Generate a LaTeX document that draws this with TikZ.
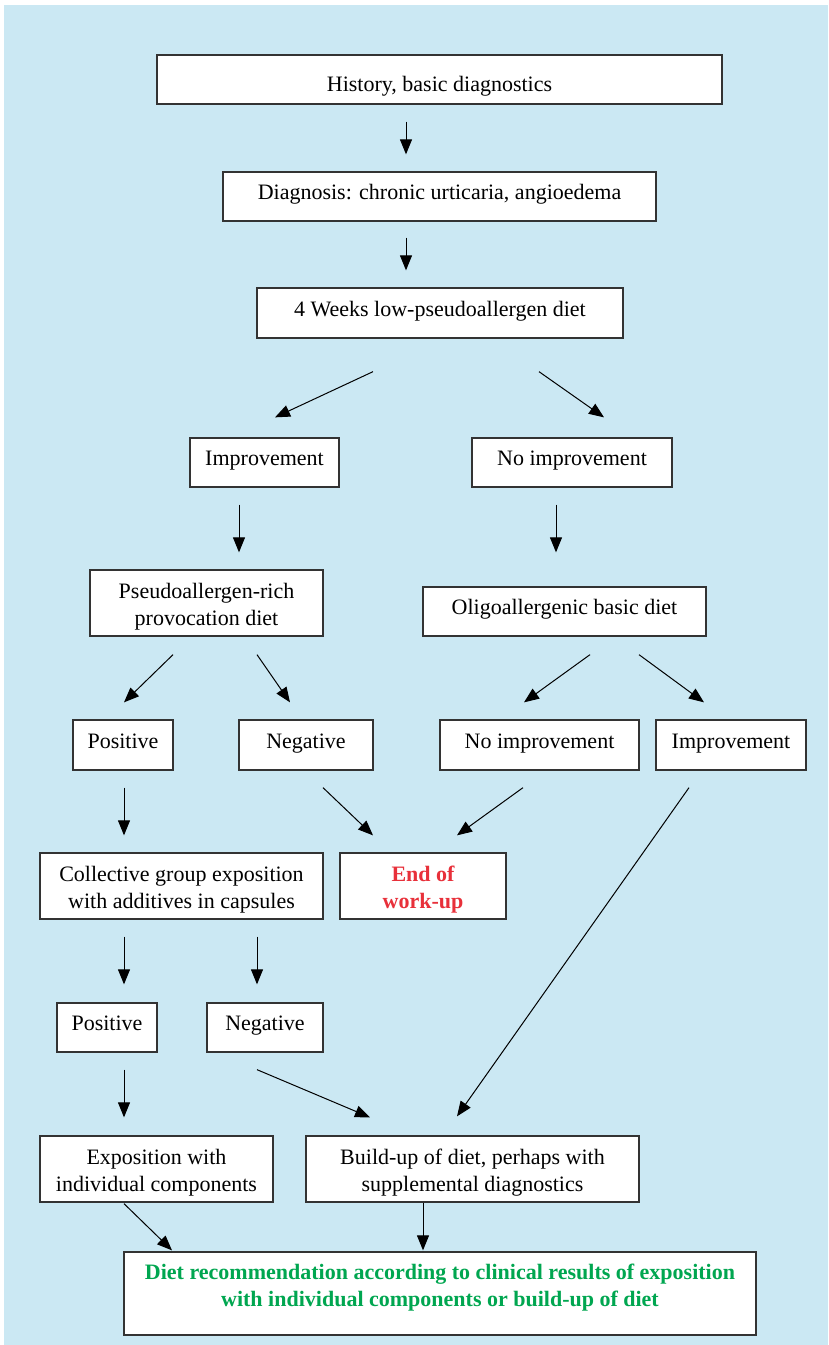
\documentclass[tikz,border=0pt]{standalone}
\usepackage{fontspec}
\setmainfont{Liberation Serif}
\usetikzlibrary{arrows.meta,calc}
\definecolor{bgblue}{HTML}{CBE8F3}
\definecolor{endred}{HTML}{E8303A}
\definecolor{dietgreen}{HTML}{00A650}
\definecolor{boxline}{HTML}{333333}
\tikzset{
  box/.style={draw=boxline, line width=1.3pt, fill=white, align=center, inner sep=0pt,
    font=\fontsize{22}{27}\selectfont},
  onebox/.style={box, text height=15pt, text depth=9pt},
  arr/.style={line width=1pt, -{Triangle[length=15pt,width=12pt]}}
}
\newcommand{\firstline}{\rule{0pt}{23pt}}
\begin{document}
\begin{tikzpicture}[x=1pt, y=-1pt]
  \useasboundingbox (0,0) rectangle (828,1345);
  \fill[bgblue] (4,5) rectangle (828,1345);

  \node[box, text height=25pt, text depth=1pt, minimum width=565pt, minimum height=49pt] (nHist) at (439.5,79.5) {History, basic diagnostics};
  \node[onebox, minimum width=433pt, minimum height=49pt] (nDiag) at (439.5,196.5) {Diagnosis: chronic urticaria, angioedema};
  \node[onebox, minimum width=366pt, minimum height=50pt] (nWeeks) at (440,313) {4 Weeks low-pseudoallergen diet};
  \node[onebox, minimum width=149pt, minimum height=49pt] (nImp) at (264.5,462.5) {Improvement};
  \node[onebox, minimum width=200pt, minimum height=49pt] (nNoImp) at (572,462.5) {No improvement};
  \node[box, minimum width=233pt, minimum height=66pt] (nPseudo) at (206.5,603) {\firstline Pseudoallergen-rich\\provocation diet};
  \node[onebox, minimum width=283pt, minimum height=49pt] (nOligo) at (564.5,611.5) {Oligoallergenic basic diet};
  \node[onebox, minimum width=100pt, minimum height=50pt] (nPos) at (123,745) {Positive};
  \node[onebox, minimum width=134pt, minimum height=50pt] (nNeg) at (306,745) {Negative};
  \node[onebox, minimum width=199pt, minimum height=50pt] (nNoImpB) at (539.5,745) {No improvement};
  \node[onebox, minimum width=150pt, minimum height=50pt] (nImpB) at (731,745) {Improvement};
  \node[box, minimum width=283pt, minimum height=66pt] (nColl) at (181.5,886) {\firstline Collective group exposition\\with additives in capsules};
  \node[box, minimum width=166pt, minimum height=66pt, text=endred, font=\fontsize{22}{27}\selectfont\bfseries] (nEnd) at (423,886) {\firstline End of\\work-up};
  \node[onebox, minimum width=100pt, minimum height=49pt] (nPosB) at (107,1027.5) {Positive};
  \node[onebox, minimum width=116pt, minimum height=49pt] (nNegB) at (265,1027.5) {Negative};
  \node[box, minimum width=233pt, minimum height=66pt] (nExpo) at (156.5,1169) {\firstline Exposition with\\individual components};
  \node[box, minimum width=333pt, minimum height=66pt] (nBuild) at (472.5,1169) {\firstline Build-up of diet, perhaps with\\supplemental diagnostics};
  \node[box, minimum width=632pt, minimum height=83pt, text=dietgreen, font=\fontsize{22}{27}\selectfont\bfseries] (nDiet) at (440,1293.5) {Diet recommendation according to clinical results of exposition\\with individual components or build-up of diet\\[-10pt]\mbox{}};

  \draw[arr] ($(nHist.south)+(-33.5,17)$) -- ($(nDiag.north)+(-33.5,-17)$);
  \draw[arr] ($(nDiag.south)+(-33.5,16)$) -- ($(nWeeks.north)+(-34,-17)$);

  \draw[arr] ($(nWeeks.south)+(-67,33)$) -- ($(nImp.north)+(10.5,-20)$);
  \draw[arr] ($(nWeeks.south)+(99,33)$) -- ($(nNoImp.north)+(32,-20)$);

  \draw[arr] ($(nImp.south)+(-25.5,17)$) -- ($(nPseudo.north)+(32.5,-17)$);
  \draw[arr] ($(nNoImp.south)+(-16,17)$) -- ($(nOligo.north)+(-8.5,-34)$);

  \draw[arr] ($(nPseudo.south)+(-33.5,18)$) -- ($(nPos.north)+(1,-17)$);
  \draw[arr] ($(nPseudo.south)+(50.5,18)$) -- ($(nNeg.north)+(-16,-17)$);
  \draw[arr] ($(nOligo.south)+(25.5,18)$) -- ($(nNoImpB.north)+(-15.5,-17)$);
  \draw[arr] ($(nOligo.south)+(74.5,18)$) -- ($(nImpB.north)+(-27,-17)$);

  \draw[arr] ($(nPos.south)+(1,17)$) -- ($(nColl.north)+(-57.5,-17)$);
  \draw[arr] ($(nNeg.south)+(17,17)$) -- ($(nEnd.north)+(-50,-17)$);
  \draw[arr] ($(nNoImpB.south)+(-16.5,17)$) -- ($(nEnd.north)+(34,-17)$);
  \draw[arr] ($(nImpB.south)+(-42,17)$) -- ($(nBuild.north)+(-15.5,-19)$);

  \draw[arr] ($(nColl.south)+(-57.5,17)$) -- ($(nPosB.north)+(17,-18)$);
  \draw[arr] ($(nColl.south)+(75.5,17)$) -- ($(nNegB.north)+(-8,-18)$);

  \draw[arr] ($(nPosB.south)+(17,17)$) -- ($(nExpo.north)+(-32.5,-18)$);
  \draw[arr] ($(nNegB.south)+(-8,17)$) -- ($(nBuild.north)+(-102.5,-18)$);

  \draw[arr] ($(nExpo.south)+(-32.5,1)$) -- ($(nDiet.north)+(-268,-1)$);
  \draw[arr] ($(nBuild.south)+(-49.5,0)$) -- ($(nDiet.north)+(-17,-1)$);
\end{tikzpicture}
\end{document}
